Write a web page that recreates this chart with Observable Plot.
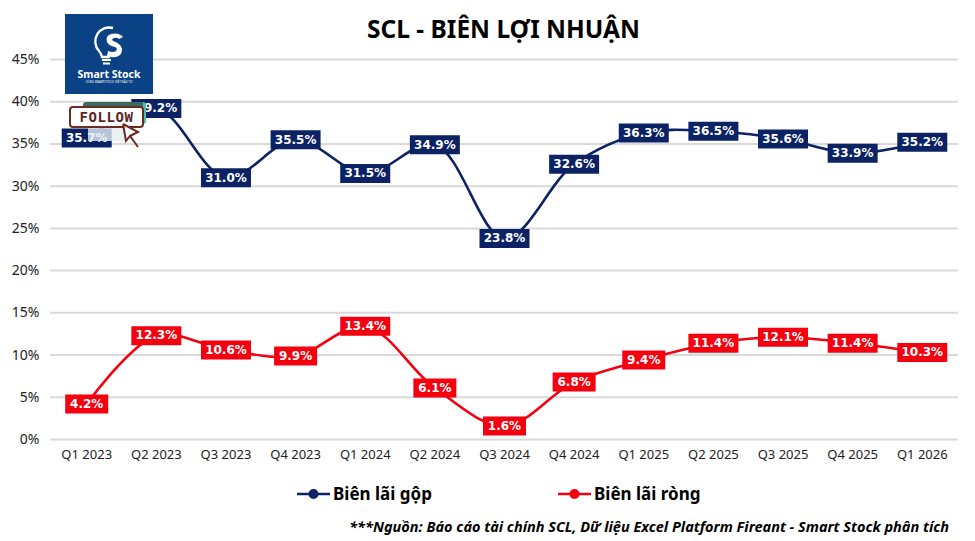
<!DOCTYPE html>
<html lang="vi">
<head>
<meta charset="utf-8">
<script src="https://cdn.jsdelivr.net/npm/d3@7"></script>
<script src="https://cdn.jsdelivr.net/npm/@observablehq/plot@0.6"></script>
<style>
html,body{margin:0;padding:0;background:#fff;overflow:hidden}
#page{position:relative;width:975px;height:541px;font-family:"Noto Sans",sans-serif;color:#000}
#title{height:44px;line-height:58px;text-align:center;font-size:24.5px;font-weight:700;padding-left:32px;box-sizing:border-box}
#chart{height:426px}
#chart svg{display:block}
#legend{position:absolute;left:0;top:482px;height:24px;width:975px;font-size:17px;font-weight:700;line-height:24px}
#legend .item{position:absolute;top:0;display:flex;align-items:center;gap:3px}
#caption{position:absolute;right:26px;top:516px;font-size:14.5px;font-weight:700;font-style:italic;line-height:20px;white-space:nowrap}
#logo{position:absolute;left:65px;top:14px;width:88px;height:80px;background:#0b4185;color:#fff;text-align:center}
#logo svg{display:block;margin:11px auto 0}
#logo .name{font-size:10.5px;font-weight:700;line-height:11px;margin-top:1px;white-space:nowrap}
#logo .sub{font-size:3px;line-height:4px;white-space:nowrap}
#follow{position:absolute;left:69px;top:102px}
#follow .back{position:absolute;left:14px;top:0;width:60px;height:22px;background:#3a6b5c;border-radius:3px;border-right:3px solid #49c0a8}
#follow .pale{position:absolute;left:19px;top:24px;width:37px;height:15px;background:#e4edf1;opacity:.8}
#follow .btn{position:absolute;left:0;top:4px;width:75px;height:22px;box-sizing:border-box;background:#fff;border:2px solid #6b2d22;border-radius:4px;color:#5b261c;font:700 14px/18px "DejaVu Sans Mono",monospace;text-align:center;letter-spacing:.6px}
#follow svg{position:absolute;left:52px;top:20px}
</style>
</head>
<body>
<div id="page">
<div id="title">SCL - BIÊN LỢI NHUẬN</div>
<div id="chart"></div>
<div id="legend"></div>
<div id="caption">***Nguồn: Báo cáo tài chính SCL, Dữ liệu Excel Platform Fireant - Smart Stock phân tích</div>
<div id="logo">
<svg width="36" height="43" viewBox="0 0 36 43">
<path d="M22 3A14 14 0 0 0 8 26q2 2 3 6h8" fill="none" stroke="#fff" stroke-width="2.4"/>
<path d="M32 12q-4-5-12-3-6 2-4 8 2 4 8 5 3 1 1 4-3 2-8 0l-1 5q8 3 13-1 4-5 0-10-3-3-7-4-2-2 1-3 3-1 5 1z" fill="#fff"/>
<path d="M11 35h9M12 38.500h7" stroke="#fff" stroke-width="2"/>
</svg>
<div class="name">Smart Stock</div>
<div class="sub">CÙNG SMARTSTOCK VIỆT ĐẦU TƯ</div>
</div>
<div id="follow">
<div class="pale"></div>
<div class="back"></div>
<div class="btn">FOLLOW</div>
<svg width="22" height="28" viewBox="0 0 22 28"><path d="M2 2l3 17 4-5 8 11M2 2l15 8-8 4" fill="#fff" stroke="#6b2d22" stroke-width="2"/></svg>
</div>
</div>
<script>
const quarters = ["Q1 2023","Q2 2023","Q3 2023","Q4 2023","Q1 2024","Q2 2024","Q3 2024","Q4 2024","Q1 2025","Q2 2025","Q3 2025","Q4 2025","Q1 2026"];
const gross = [35.7,39.2,31.0,35.5,31.5,34.9,23.8,32.6,36.3,36.5,35.6,33.9,35.2];
const net = [4.2,12.3,10.6,9.9,13.4,6.1,1.6,6.8,9.4,11.4,12.1,11.4,10.3];
const yTicks = [0,5,10,15,20,25,30,35,40,45];
const grossName = "Biên lãi gộp", netName = "Biên lãi ròng";
const navy = "#0b2265", red = "#f5000f";

const toRows = values => values.map((v, i) => ({q: quarters[i], v}));
const grossRows = toRows(gross), netRows = toRows(net);
const wideBox = {draw(ctx){ctx.rect(-25,-9.5,50,19);}};
const narrowBox = {draw(ctx){ctx.rect(-21.5,-9.5,43,19);}};
const isWide = d => d.v >= 10;
const isNarrow = d => d.v < 10;
const fmt = d => d.v.toFixed(1) + "%";
const seriesMarks = (rows, color) => [
  Plot.lineY(rows, {x:"q", y:"v", stroke:color, strokeWidth:2.6, curve:"catmull-rom"}),
  Plot.dot(rows, {filter:isWide, x:"q", y:"v", r:5, symbol:wideBox, fill:color}),
  Plot.dot(rows, {filter:isNarrow, x:"q", y:"v", r:5, symbol:narrowBox, fill:color}),
  Plot.text(rows, {x:"q", y:"v", text:fmt, fill:"#fff", fontWeight:700, fontSize:12, fontFamily:"DejaVu Sans"})
];

const chart = Plot.plot({
  width:975, height:426,
  marginLeft:50, marginRight:17, marginTop:15, marginBottom:31,
  style:{fontFamily:"Noto Sans", background:"transparent", overflow:"visible"},
  x:{type:"point", domain:quarters, padding:0.52, round:false, label:null},
  y:{domain:[0,45], label:null},
  marks:[
    Plot.gridY(yTicks, {stroke:"#d9d9d9", strokeOpacity:1, strokeWidth:2}),
    Plot.axisY({ticks:yTicks, tickFormat:d=>d+"%", tickSize:0, tickPadding:11, fontSize:14, label:null, fill:"#222"}),
    Plot.axisX({tickSize:0, tickPadding:10, fontSize:13, label:null, fill:"#222"}),
    ...seriesMarks(grossRows, navy),
    ...seriesMarks(netRows, red)
  ]
});
document.getElementById("chart").append(chart);

const legend = document.getElementById("legend");
[[grossName, navy, 297],[netName, red, 558]].forEach(([name,color,left]) => {
  const item = document.createElement("div");
  item.className = "item";
  item.style.left = left + "px";
  item.innerHTML = `<svg width="33" height="12"><line x1="0" x2="33" y1="6" y2="6" stroke="${color}" stroke-width="2.6"/><circle cx="16.500" cy="6" r="5" fill="${color}"/></svg><span>${name}</span>`;
  legend.append(item);
});
</script>
</body>
</html>
